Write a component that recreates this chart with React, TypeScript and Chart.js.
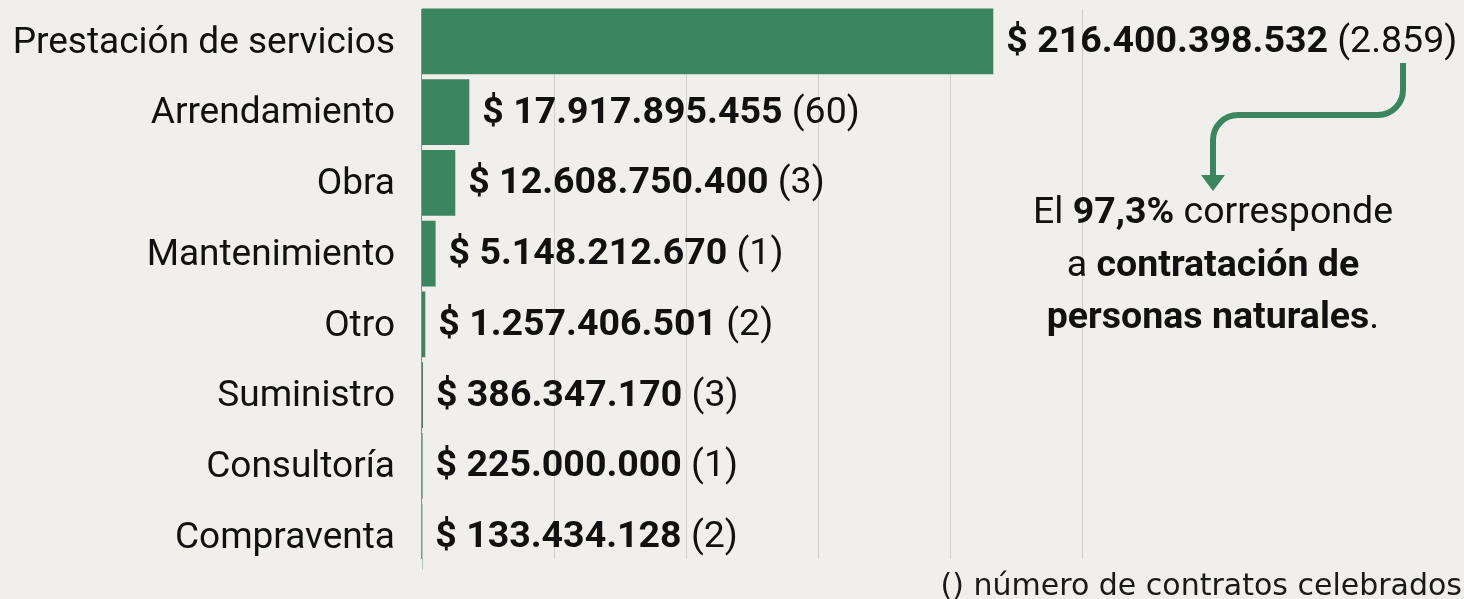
import { useEffect, useRef } from 'react';
import { Chart, registerables } from 'chart.js';

Chart.register(...registerables);

const categories = [
  'Prestación de servicios',
  'Arrendamiento',
  'Obra',
  'Mantenimiento',
  'Otro',
  'Suministro',
  'Consultoría',
  'Compraventa',
];
const values = [216400398532, 17917895455, 12608750400, 5148212670, 1257406501, 386347170, 225000000, 133434128];
const counts = [2859, 60, 3, 1, 2, 3, 1, 2];
const xMax = 250000000000;
const xStep = 50000000000;

const noteLines: [string, boolean][][] = [
  [['El ', false], ['97,3%', true], [' corresponde', false]],
  [['a ', false], ['contratación de', true]],
  [['personas naturales', true], ['.', false]],
];
const footnote = '() número de contratos celebrados';

const FONT = 'Roboto, sans-serif';
const GREEN = '#3b865e';
const BG = '#f0efeb';
const TEXT = '#111111';

function fmt(n: number): string {
  return n.toString().replace(/\B(?=(\d{3})+(?!\d))/g, '.');
}

const bgPlugin = {
  id: 'bg',
  beforeDraw(chart: any) {
    const { ctx, width, height } = chart;
    ctx.save();
    ctx.fillStyle = BG;
    ctx.fillRect(0, 0, width, height);
    ctx.restore();
  },
};

const gridPlugin = {
  id: 'customGrid',
  beforeDatasetsDraw(chart: any) {
    const { ctx, chartArea, scales } = chart;
    const x = scales.x;
    const top = chartArea.top + 3;
    const bottom = chartArea.bottom - 13;
    ctx.save();
    ctx.lineWidth = 1;
    ctx.strokeStyle = '#d2d0cb';
    for (let v = xStep; v <= xMax; v += xStep) {
      const px = Math.round(x.getPixelForValue(v)) + 0.5;
      ctx.beginPath();
      ctx.moveTo(px, top);
      ctx.lineTo(px, bottom);
      ctx.stroke();
    }
    ctx.strokeStyle = '#8e8e8e';
    const p0 = Math.round(x.getPixelForValue(0)) - 0.5;
    ctx.beginPath();
    ctx.moveTo(p0, top);
    ctx.lineTo(p0, bottom);
    ctx.stroke();
    ctx.restore();
  },
};

function drawRuns(ctx: CanvasRenderingContext2D, runs: [string, boolean][], cx: number, y: number, size: number) {
  let total = 0;
  const widths = runs.map(([t, b]) => {
    ctx.font = `${b ? 'bold ' : ''}${size}px ${FONT}`;
    const w = ctx.measureText(t).width;
    total += w;
    return w;
  });
  let x = cx - total / 2;
  runs.forEach(([t, b], i) => {
    ctx.font = `${b ? 'bold ' : ''}${size}px ${FONT}`;
    ctx.fillText(t, x, y);
    x += widths[i];
  });
}

const labelPlugin = {
  id: 'labels',
  afterDatasetsDraw(chart: any) {
    const { ctx, width, height } = chart;
    const meta = chart.getDatasetMeta(0);
    ctx.save();
    ctx.fillStyle = TEXT;
    ctx.textBaseline = 'middle';
    ctx.textAlign = 'left';
    meta.data.forEach((bar: any, i: number) => {
      const x0 = bar.x + 13;
      const y0 = bar.y + 1;
      const t1 = '$ ' + fmt(values[i]);
      ctx.font = `bold 37.5px ${FONT}`;
      ctx.fillText(t1, x0, y0);
      const w = ctx.measureText(t1).width;
      ctx.font = `37.5px ${FONT}`;
      ctx.fillText(' (' + fmt(counts[i]) + ')', x0 + w, y0);
    });

    // annotation text
    const cx = width - 251;
    const ys = [214, 267, 319];
    noteLines.forEach((runs, i) => drawRuns(ctx, runs, cx, ys[i], 37.5));

    // arrow
    ctx.strokeStyle = GREEN;
    ctx.fillStyle = GREEN;
    ctx.lineWidth = 6;
    ctx.lineCap = 'butt';
    ctx.lineJoin = 'round';
    const ax = width - 61;
    ctx.beginPath();
    ctx.moveTo(ax, 63);
    ctx.lineTo(ax, 90);
    ctx.arcTo(ax, 115, ax - 25, 115, 25);
    ctx.lineTo(cx + 25, 115);
    ctx.arcTo(cx, 115, cx, 140, 25);
    ctx.lineTo(cx, 177);
    ctx.stroke();
    ctx.beginPath();
    ctx.moveTo(cx - 12, 175);
    ctx.lineTo(cx + 12, 175);
    ctx.lineTo(cx, 191);
    ctx.closePath();
    ctx.fill();

    // footnote
    ctx.fillStyle = '#1a1a1a';
    ctx.textAlign = 'right';
    ctx.textBaseline = 'alphabetic';
    ctx.font = `30px "DejaVu Sans", sans-serif`;
    ctx.fillText(footnote, width - 2, height - 4);
    ctx.restore();
  },
};

export default function App() {
  const ref = useRef<HTMLCanvasElement | null>(null);
  useEffect(() => {
    document.body.style.margin = '0';
    document.body.style.background = BG;
    if (!ref.current) return;
    const chart = new Chart(ref.current, {
      type: 'bar',
      data: {
        labels: categories,
        datasets: [
          {
            data: values,
            backgroundColor: GREEN,
            borderWidth: 0,
            barPercentage: 0.93,
            categoryPercentage: 1,
          },
        ],
      },
      options: {
        indexAxis: 'y',
        animation: false,
        responsive: true,
        maintainAspectRatio: false,
        layout: { autoPadding: false, padding: { top: 6, bottom: 27, right: 382, left: 0 } },
        plugins: { legend: { display: false }, tooltip: { enabled: false } },
        scales: {
          x: {
            display: false,
            min: 0,
            max: xMax,
            ticks: { stepSize: xStep },
          },
          y: {
            grid: { display: false },
            border: { display: false },
            ticks: {
              padding: 19,
              labelOffset: 2,
              color: TEXT,
              font: { family: FONT, size: 37 },
            },
            afterFit(scale: any) {
              scale.width = 422;
              scale.paddingTop = 0;
              scale.paddingBottom = 0;
            },
          },
        },
      },
      plugins: [bgPlugin, gridPlugin, labelPlugin],
    });
    return () => chart.destroy();
  }, []);
  return (
    <div style={{ width: 1464, height: 599, position: 'relative', background: BG }}>
      <canvas ref={ref} />
    </div>
  );
}
